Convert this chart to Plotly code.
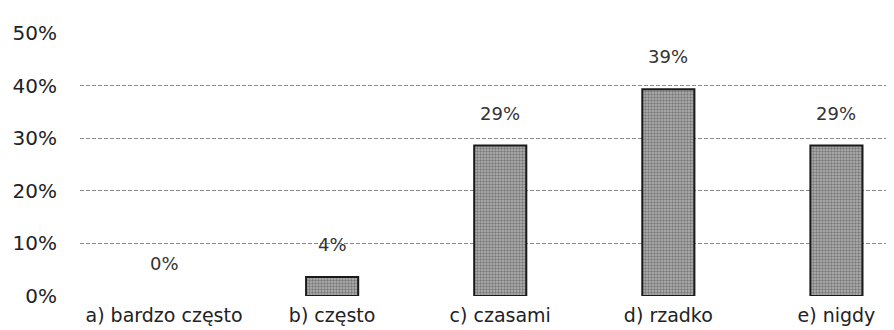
import plotly.graph_objects as go

categories = ["a) bardzo często", "b) często", "c) czasami", "d) rzadko", "e) nigdy"]
values = [0, 3.6, 28.6, 39.3, 28.6]
labels = ["0%", "4%", "29%", "39%", "29%"]
y_ticks = [0, 10, 20, 30, 40, 50]
y_tick_labels = ["0%", "10%", "20%", "30%", "40%", "50%"]

xs = list(range(len(categories)))

fig = go.Figure()

fig.add_trace(
    go.Bar(
        x=xs,
        y=values,
        width=0.31,
        marker=dict(
            color="#a8a8a8",
            line=dict(color="#1a1a1a", width=[0 if v == 0 else 2 for v in values]),
            pattern=dict(shape=".", fgcolor="#3e3e3e", bgcolor="#b4b4b4", size=3, solidity=0.5),
        ),
    )
)

# value labels sit well above the bars
for x, v, t in zip(xs, values, labels):
    fig.add_annotation(
        x=x, y=v, text=t, showarrow=False,
        yanchor="bottom", yshift=20,
        font=dict(size=18, color="#333333"),
    )

fig.update_layout(
    width=894,
    height=330,
    margin=dict(l=72, r=0, t=25, b=42),
    plot_bgcolor="white",
    paper_bgcolor="white",
    font=dict(family="DejaVu Sans", size=18, color="#222222"),
    showlegend=False,
)

fig.update_xaxes(
    tickmode="array",
    tickvals=xs,
    ticktext=categories,
    range=[-0.5, 4.39],
    showgrid=False,
    showline=False,
    ticks="",
    ticklabelstandoff=6,
    tickfont=dict(size=19),
)

fig.update_yaxes(
    range=[0, 50],
    tickmode="array",
    tickvals=y_ticks,
    ticktext=y_tick_labels,
    showgrid=True,
    gridcolor="#8a8a8a",
    gridwidth=1,
    griddash="4px,2px",
    zeroline=False,
    ticks="",
    automargin=False,
    ticklabelstandoff=22,
    tickfont=dict(size=20),
)

fig.write_html("out.html")
